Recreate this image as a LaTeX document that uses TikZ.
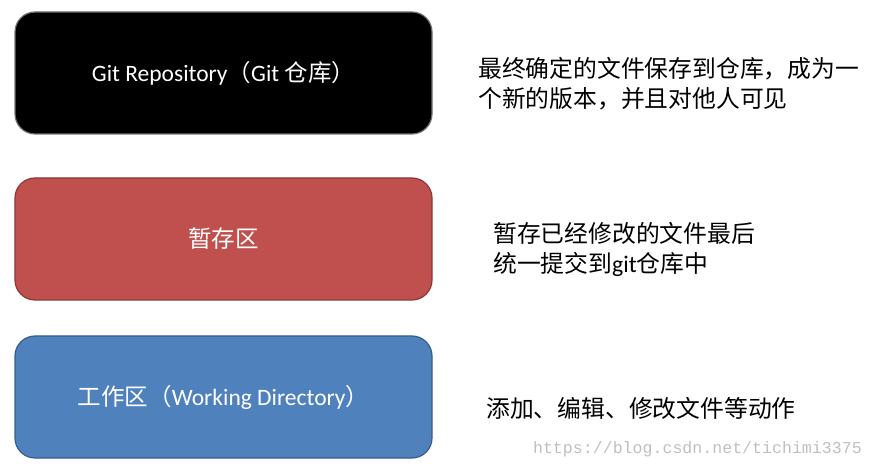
\documentclass[tikz,border=0pt]{standalone}
\usepackage{fontspec}
\setmainfont{Carlito}
\newfontfamily\cjk{Noto Sans CJK SC}
\newfontfamily\wmfont{Liberation Mono}
\usetikzlibrary{positioning}

\definecolor{repofill}{HTML}{000000}
\definecolor{stagefill}{HTML}{C0504D}
\definecolor{stageline}{HTML}{8C3836}
\definecolor{workfill}{HTML}{4F81BD}
\definecolor{workline}{HTML}{385D8A}

\begin{document}
\begin{tikzpicture}[
    x=1pt, y=-1pt,
    area/.style={rounded corners=20pt, minimum width=417pt, minimum height=122pt, line width=1.2pt, align=center, text=white, font=\fontsize{23.5}{28}\selectfont},
    note/.style={anchor=west, inner sep=0pt, align=left, font=\cjk\fontsize{23.8}{30}\selectfont},
    label/.style={anchor=east, inner sep=0pt, text=black!25, font=\wmfont\fontsize{16.6}{20}\selectfont}
]
    \useasboundingbox (0,0) rectangle (873,470);

    % The three areas
    \node[area, fill=repofill, draw=black!55] (repo) at (223.5,73) {Git Repository{\cjk （}Git {\cjk 仓库）}};
    \node[area, fill=stagefill, draw=stageline] (stage) at (223.5,239) {\cjk 暂存区};
    \node[area, fill=workfill, draw=workline] (work) at (223.5,397) {{\cjk 工作区（}Working Directory{\cjk ）}};

    % Notes on the right
    \node[note] (repotext) at (478,84) {最终确定的文件保存到仓库，成为一\\个新的版本，并且对他人可见};
    \node[note] (stagetext) at (493,249) {暂存已经修改的文件最后\\统一提交到{\rmfamily git}仓库中};
    \node[note] (worktext) at (486,408) {添加、编辑、修改文件等动作};

    % Watermark
    \node[label] (mark) at (862,449) {https://blog.csdn.net/tichimi3375};
\end{tikzpicture}
\end{document}
